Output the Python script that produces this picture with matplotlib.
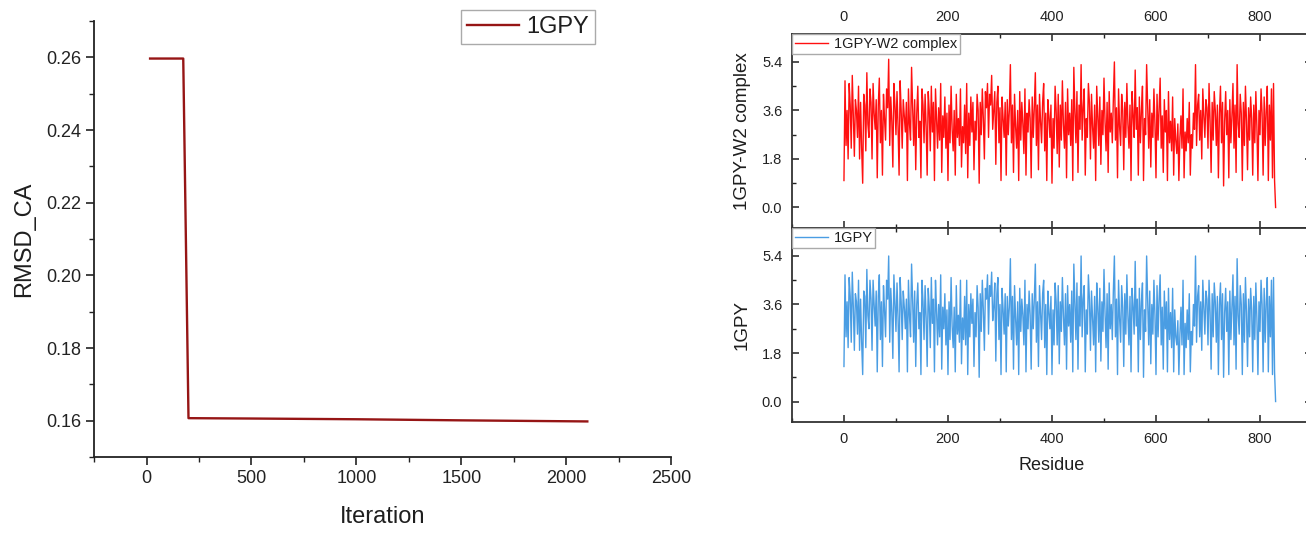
import numpy as np
import matplotlib
matplotlib.use('Agg')
import matplotlib.pyplot as plt
from matplotlib.ticker import MultipleLocator, FormatStrFormatter

plt.rcParams['font.family'] = ['Liberation Sans', 'DejaVu Sans']
plt.rcParams['text.color'] = '#1e1e1e'
plt.rcParams['axes.labelcolor'] = '#1e1e1e'

# ---- left panel: RMSD_CA vs iteration
iteration = [17, 175, 200, 500, 1000, 1500, 2100]
rmsd_ca = [0.2597, 0.2597, 0.1607, 0.1606, 0.1604, 0.1601, 0.1598]

# ---- right panels: per-residue values (every 2nd residue, 0..830)
residue = np.arange(0, 831, 2)
complex_w2 = [
    1.0, 4.7, 2.3, 3.6, 1.8, 4.6, 3.8, 2.2, 4.9, 3.4, 1.9, 4.0, 3.6, 2.6, 4.5, 1.8, 3.9, 2.2, 0.9, 4.2,
    3.8, 2.1, 5.0, 3.1, 2.6, 4.4, 3.9, 1.8, 4.6, 3.5, 2.9, 4.0, 1.1, 3.8, 4.8, 2.4, 3.6, 1.2, 4.2, 3.3,
    2.5, 4.4, 3.7, 5.5, 2.3, 4.1, 3.2, 1.5, 4.6, 3.8, 2.7, 4.3, 3.0, 1.2, 4.7, 3.6, 2.2, 4.0, 3.4, 2.8,
    3.9, 1.0, 4.4, 3.1, 2.5, 5.2, 3.7, 2.3, 4.0, 1.4, 3.5, 4.5, 2.6, 3.2, 1.1, 4.4, 3.8, 2.4, 4.2, 3.0,
    1.2, 4.3, 3.6, 2.1, 4.5, 2.8, 3.9, 1.0, 4.4, 3.3, 2.2, 3.7, 2.5, 4.6, 1.3, 3.4, 2.6, 4.1, 2.2, 3.5,
    1.0, 3.8, 2.4, 4.5, 2.9, 2.1, 3.6, 1.2, 4.2, 2.6, 3.3, 2.3, 4.4, 1.5, 3.0, 2.4, 3.8, 2.0, 4.6, 1.1,
    3.5, 2.3, 4.1, 2.8, 3.9, 1.4, 3.2, 2.5, 4.2, 3.6, 0.9, 3.9, 2.7, 4.4, 3.3, 1.8, 4.3, 3.7, 4.6, 2.6,
    4.2, 3.8, 4.9, 2.9, 3.6, 4.3, 1.6, 3.9, 4.5, 2.4, 3.7, 1.0, 4.1, 3.3, 2.6, 3.9, 1.2, 4.0, 2.7, 3.6,
    5.3, 2.4, 3.8, 1.3, 4.2, 3.0, 2.2, 3.6, 1.0, 4.3, 2.5, 3.9, 3.1, 2.0, 4.4, 1.2, 3.5, 2.8, 4.0, 3.3,
    1.1, 4.1, 2.6, 3.7, 5.0, 2.3, 3.8, 1.4, 4.2, 3.2, 2.4, 3.9, 4.6, 2.1, 3.5, 1.0, 4.0, 3.4, 2.6, 3.8,
    0.9, 3.3, 2.2, 4.5, 3.6, 2.0, 4.2, 1.5, 3.8, 2.5, 4.7, 3.1, 2.2, 3.9, 1.1, 4.4, 2.7, 3.5, 2.3, 4.0,
    1.0, 5.2, 3.6, 2.4, 4.3, 1.3, 3.8, 2.9, 5.3, 2.5, 3.7, 4.4, 1.2, 3.3, 2.6, 4.6, 3.9, 1.8, 4.2, 3.0,
    2.2, 3.8, 1.0, 4.5, 3.4, 2.3, 4.1, 1.6, 3.6, 2.7, 4.8, 3.2, 2.1, 3.9, 1.3, 4.3, 2.8, 3.5, 2.4, 4.0,
    5.4, 2.5, 3.7, 1.1, 4.4, 3.0, 2.3, 4.2, 3.6, 1.4, 3.9, 2.6, 4.6, 3.1, 2.2, 3.8, 1.0, 4.3, 3.4, 2.6,
    5.1, 2.9, 3.7, 1.2, 4.1, 2.4, 3.6, 4.5, 1.0, 3.3, 2.7, 5.3, 3.8, 2.2, 4.0, 1.5, 3.5, 2.6, 4.4, 3.1,
    1.1, 4.2, 2.5, 3.7, 4.8, 2.2, 3.4, 1.3, 4.0, 2.8, 3.6, 1.0, 4.3, 2.4, 3.2, 2.1, 4.1, 1.2, 3.3, 2.5,
    2.0, 3.1, 1.0, 2.6, 3.4, 2.2, 4.4, 1.1, 2.8, 2.1, 3.3, 2.4, 3.9, 1.2, 2.7, 2.2, 3.5, 2.9, 5.3, 2.3,
    3.8, 4.2, 2.5, 3.6, 1.8, 4.4, 3.4, 2.6, 4.0, 3.7, 2.2, 4.6, 3.2, 1.3, 3.9, 2.5, 4.3, 3.6, 2.3, 3.8,
    1.1, 3.5, 4.5, 2.4, 3.9, 0.8, 3.2, 4.3, 2.7, 3.6, 1.1, 4.0, 2.4, 3.4, 4.6, 2.2, 3.8, 1.3, 5.3, 3.1,
    2.6, 4.2, 3.5, 1.0, 3.9, 2.3, 4.5, 3.2, 1.4, 3.7, 2.5, 4.1, 3.3, 1.2, 3.8, 2.4, 4.3, 3.0, 1.0, 3.6,
    2.7, 4.4, 3.5, 1.2, 4.1, 2.3, 3.6, 4.5, 1.0, 3.8, 2.5, 4.4, 1.1, 4.6, 1.0, 0.0,
]
apo_1gpy = [
    1.3, 4.7, 2.4, 3.7, 2.0, 4.6, 3.9, 2.2, 4.8, 3.5, 1.9, 4.0, 3.7, 2.5, 4.5, 1.9, 3.8, 2.2, 1.0, 4.1,
    3.9, 2.0, 4.9, 3.2, 2.7, 4.5, 3.8, 1.9, 4.5, 3.6, 2.8, 4.1, 1.1, 3.9, 4.7, 2.3, 3.7, 1.3, 4.3, 3.4,
    2.4, 4.5, 3.8, 5.4, 2.2, 4.2, 3.3, 1.6, 4.7, 3.7, 2.6, 4.4, 3.1, 1.1, 4.6, 3.7, 2.3, 4.1, 3.5, 2.7,
    3.8, 1.1, 4.5, 3.2, 2.4, 5.1, 3.8, 2.2, 4.1, 1.3, 3.6, 4.4, 2.7, 3.3, 1.0, 4.5, 3.7, 2.3, 4.3, 3.1,
    1.3, 4.2, 3.5, 2.0, 4.6, 2.9, 3.8, 1.1, 4.5, 3.4, 2.1, 3.6, 2.4, 4.7, 1.2, 3.5, 2.7, 4.0, 2.1, 3.4,
    1.0, 3.7, 2.3, 4.6, 2.8, 2.0, 3.5, 1.1, 4.3, 2.5, 3.2, 2.2, 4.5, 1.4, 3.1, 2.3, 3.9, 2.1, 4.5, 1.0,
    3.6, 2.4, 4.0, 2.9, 3.8, 1.3, 3.3, 2.4, 4.3, 3.5, 0.9, 4.0, 2.6, 4.5, 3.4, 1.9, 4.2, 3.8, 4.7, 2.5,
    4.3, 3.9, 4.8, 3.0, 3.5, 4.4, 1.5, 4.0, 4.6, 2.3, 3.6, 1.0, 4.2, 3.4, 2.5, 4.0, 1.1, 3.9, 2.8, 3.5,
    5.3, 2.3, 3.9, 1.2, 4.3, 3.1, 2.1, 3.7, 1.0, 4.2, 2.6, 3.8, 3.2, 2.1, 4.5, 1.1, 3.6, 2.7, 4.1, 3.2,
    1.2, 4.0, 2.7, 3.8, 5.1, 2.2, 3.7, 1.3, 4.3, 3.3, 2.3, 4.0, 4.5, 2.0, 3.6, 1.0, 4.1, 3.3, 2.7, 3.9,
    1.0, 3.4, 2.1, 4.4, 3.7, 2.1, 4.3, 1.4, 3.7, 2.6, 4.6, 3.2, 2.1, 4.0, 1.2, 4.3, 2.8, 3.6, 2.2, 4.1,
    1.1, 5.1, 3.7, 2.3, 4.4, 1.2, 3.9, 2.8, 5.4, 2.4, 3.8, 4.3, 1.1, 3.4, 2.5, 4.7, 3.8, 1.9, 4.1, 3.1,
    2.1, 3.9, 1.1, 4.4, 3.5, 2.2, 4.2, 1.5, 3.7, 2.6, 4.9, 3.3, 2.0, 4.0, 1.2, 4.4, 2.7, 3.6, 2.3, 4.1,
    5.4, 2.4, 3.8, 1.0, 4.5, 3.1, 2.2, 4.3, 3.5, 1.3, 4.0, 2.5, 4.7, 3.2, 2.1, 3.9, 1.1, 4.2, 3.5, 2.5,
    5.2, 2.8, 3.8, 1.1, 4.2, 2.3, 3.7, 4.4, 0.9, 3.4, 2.6, 5.4, 3.7, 2.1, 4.1, 1.4, 3.6, 2.5, 4.5, 3.2,
    1.0, 4.3, 2.4, 3.8, 4.7, 2.1, 3.5, 1.2, 4.1, 2.7, 3.7, 1.1, 4.2, 2.3, 3.3, 2.0, 4.2, 1.1, 3.4, 2.4,
    2.1, 3.0, 1.0, 2.5, 3.5, 2.1, 4.5, 1.0, 2.9, 2.0, 3.4, 2.3, 4.0, 1.1, 2.6, 2.1, 3.6, 2.8, 5.4, 2.2,
    3.9, 4.3, 2.4, 3.7, 1.9, 4.5, 3.5, 2.5, 4.1, 3.8, 2.1, 4.5, 3.3, 1.2, 4.0, 2.4, 4.4, 3.7, 2.2, 3.9,
    1.0, 3.6, 4.4, 2.3, 4.0, 0.9, 3.3, 4.2, 2.6, 3.7, 1.0, 4.1, 2.3, 3.5, 4.7, 2.1, 3.9, 1.2, 5.3, 3.2,
    2.5, 4.3, 3.6, 1.0, 4.0, 2.2, 4.6, 3.3, 1.3, 3.8, 2.4, 4.2, 3.4, 1.1, 3.9, 2.3, 4.4, 3.1, 1.0, 3.7,
    2.6, 4.5, 3.6, 1.1, 4.2, 2.2, 3.7, 4.6, 1.1, 3.9, 2.4, 4.5, 1.0, 4.6, 1.1, 0.0,
]
assert len(complex_w2) == len(residue) == len(apo_1gpy)

fig = plt.figure(figsize=(13.06, 5.56), dpi=100, facecolor='white')

# left panel
ax1 = fig.add_axes([0.072, 0.178, 0.442, 0.784])
ax1.plot(iteration, rmsd_ca, color='#961515', lw=1.7, label='1GPY')
ax1.set_xlim(-250, 2500)
ax1.set_ylim(0.15, 0.27)
ax1.xaxis.set_major_locator(MultipleLocator(500))
ax1.xaxis.set_minor_locator(MultipleLocator(250))
ax1.yaxis.set_major_locator(MultipleLocator(0.02))
ax1.yaxis.set_minor_locator(MultipleLocator(0.01))
ax1.yaxis.set_major_formatter(FormatStrFormatter('%.2f'))
ax1.spines['top'].set_visible(False)
ax1.spines['right'].set_visible(False)
for s in ('left', 'bottom'):
    ax1.spines[s].set_linewidth(1.3)
    ax1.spines[s].set_color('#222222')
ax1.tick_params(which='both', direction='out', labelsize=13, colors='#222222')
ax1.tick_params(which='major', length=6, width=1.2, pad=3)
ax1.tick_params(which='minor', length=3.5, width=1.0)
ax1.set_xlabel('Iteration', fontsize=17, labelpad=14)
ax1.set_ylabel('RMSD_CA', fontsize=17, labelpad=8)
leg = ax1.legend(loc='upper right', bbox_to_anchor=(595 / 1306, 546 / 556),
                 bbox_transform=fig.transFigure, borderaxespad=0, fontsize=17,
                 handlelength=2.2, handletextpad=0.3, borderpad=0.25,
                 fancybox=False, edgecolor='#aaaaaa', framealpha=1)
leg.get_frame().set_linewidth(1.0)

# right panels
ax2 = fig.add_axes([0.6064, 0.590, 0.3982, 0.349])
ax3 = fig.add_axes([0.6064, 0.241, 0.3982, 0.349])
ax2.plot(residue, complex_w2, color='#ff1010', lw=1.0, label='1GPY-W2 complex')
ax3.plot(residue, apo_1gpy, color='#4a9de3', lw=1.0, label='1GPY')

for ax in (ax2, ax3):
    ax.set_xlim(-100, 900)
    ax.set_ylim(-0.76, 6.44)
    ax.xaxis.set_major_locator(MultipleLocator(200))
    ax.xaxis.set_minor_locator(MultipleLocator(100))
    ax.yaxis.set_major_locator(MultipleLocator(1.8))
    ax.yaxis.set_minor_locator(MultipleLocator(0.9))
    ax.yaxis.set_major_formatter(FormatStrFormatter('%.1f'))
    ax.tick_params(which='both', direction='in', top=True, right=True,
                   labelsize=10.5, colors='#222222', pad=7)
    ax.tick_params(which='major', length=5, width=1.1)
    ax.tick_params(which='minor', length=3, width=1.0)
    for s in ax.spines.values():
        s.set_linewidth(1.3)
        s.set_color('#333333')
    lg = ax.legend(loc='upper left', borderaxespad=0, fontsize=10.5,
                   handlelength=2.3, handletextpad=0.35, borderpad=0.2,
                   fancybox=False, edgecolor='#aaaaaa', framealpha=1)
    lg.get_frame().set_linewidth(1.0)

ax2.tick_params(labeltop=True, labelbottom=False)
ax2.set_ylabel('1GPY-W2 complex', fontsize=13.5, labelpad=8)
ax3.set_ylabel('1GPY', fontsize=13.5, labelpad=8)
ax3.set_xlabel('Residue', fontsize=13, labelpad=8)

fig.savefig('out.png', dpi=100)
